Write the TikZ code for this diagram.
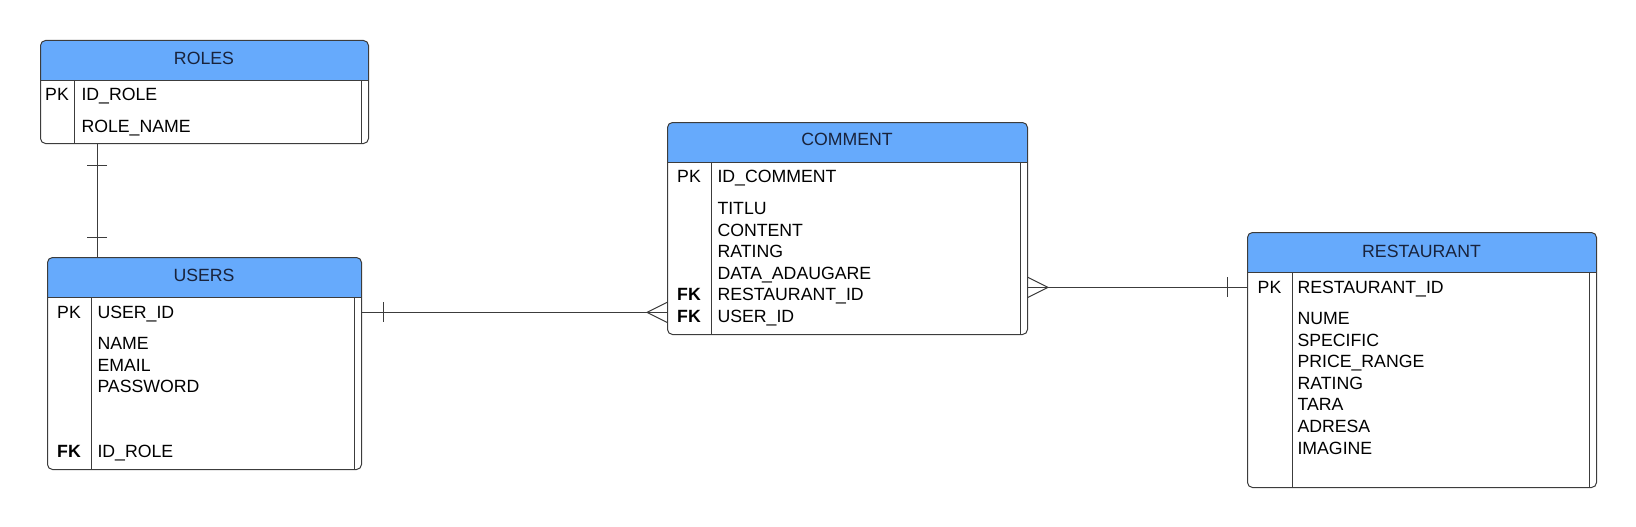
\documentclass[tikz,border=0pt]{standalone}
\usepackage{fontspec}
\setmainfont{Liberation Sans}
\usetikzlibrary{decorations.markings}

\definecolor{headblue}{RGB}{102,170,252}
\definecolor{edgegray}{RGB}{60,60,60}
\definecolor{titleink}{RGB}{25,35,60}
\newcommand{\rowsize}{\fontsize{17.7}{21.6}\selectfont}

\begin{document}
\begin{tikzpicture}[x=1pt, y=-1pt, line width=1pt,
  table/.style={draw=edgegray, fill=white, rounded corners=5, anchor=north west, inner sep=0,
    path picture={
      \fill[headblue, sharp corners] (path picture bounding box.north west) rectangle ([yshift=-40]path picture bounding box.north east);
      \draw[edgegray] ([yshift=-40]path picture bounding box.north west) -- ([yshift=-40]path picture bounding box.north east);
      \draw[edgegray] ([xshift=#1, yshift=-40]path picture bounding box.north west) -- ([xshift=#1]path picture bounding box.south west);
      \draw[edgegray] ([xshift=-7.5, yshift=-40]path picture bounding box.north east) -- ([xshift=-7.5]path picture bounding box.south east);
    }},
  title/.style={font=\rowsize, text=titleink},
  key/.style={font=\rowsize, anchor=base, align=center},
  fkey/.style={font=\rowsize\bfseries, anchor=base, align=center},
  field/.style={font=\rowsize, anchor=base west, inner sep=0, align=left},
  link/.style={draw=edgegray},
  one start/.style={postaction={decorate, decoration={markings, mark=at position 21pt with {\draw[edgegray] (0,-10) -- (0,10);}}}},
  one end/.style={postaction={decorate, decoration={markings, mark=at position -20pt with {\draw[edgegray] (0,-10) -- (0,10);}}}},
  many start/.style={postaction={decorate, decoration={markings, mark=at position 0 with {\draw[edgegray] (0,-10) -- (20,0) -- (0,10);}}}},
  many end/.style={postaction={decorate, decoration={markings, mark=at position 1 with {\draw[edgegray] (0,-10) -- (-20,0) -- (0,10);}}}}]
\useasboundingbox (0,0) rectangle (1636,527);

% tables
\node[table=34, minimum width=328, minimum height=103] (roles) at (40,40) {};
\node[table=44, minimum width=314, minimum height=212] (users) at (47,257) {};
\node[table=44, minimum width=360, minimum height=212] (comment) at (667,122) {};
\node[table=45, minimum width=349, minimum height=255] (restaurant) at (1247,232) {};

% roles
\node[title] (roles title) at (204,58) {ROLES};
\node[key] (rolespk) at (57,100.5) {PK};
\node[field] (rolesid) at (81,100.5) {ID\_ROLE};
\node[field] (rolesname) at (81,132.5) {ROLE\_NAME};

% users (multi-line fields sit on their last baseline)
\node[title] (users title) at (204,275) {USERS};
\node[key] (userspk) at (69,318.5) {PK};
\node[field] (usersid) at (97,318.5) {USER\_ID};
\node[field] (usersdata) at (97,392.7) {NAME\\EMAIL\\PASSWORD};
\node[fkey] (usersfk) at (69,457.5) {FK};
\node[field] (usersrole) at (97,457.5) {ID\_ROLE};

% comment
\node[title] (comment title) at (847,139) {COMMENT};
\node[key] (commentpk) at (689,182.5) {PK};
\node[field] (commentid) at (717,182.5) {ID\_COMMENT};
\node[fkey] (commentfk) at (689,322.5) {FK\\FK};
\node[field] (commentdata) at (717,322.5) {TITLU\\CONTENT\\RATING\\DATA\_ADAUGARE\\RESTAURANT\_ID\\USER\_ID};

% restaurant
\node[title] (restaurant title) at (1421.5,251) {RESTAURANT};
\node[key] (restpk) at (1269.5,293.5) {PK};
\node[field] (restid) at (1297,293.5) {RESTAURANT\_ID};
\node[field] (restdata) at (1297,454.1) {NUME\\SPECIFIC\\PRICE\_RANGE\\RATING\\TARA\\ADRESA\\IMAGINE};

% relations
\draw[link, one start, one end] ([xshift=57]roles.south west) -- ([xshift=50]users.north west);
\draw[link, one start, many end] (users.east |- userspk) -- (comment.west |- userspk);
\draw[link, many start, one end] (comment.east |- restpk) -- (restaurant.west |- restpk);
\end{tikzpicture}
\end{document}
